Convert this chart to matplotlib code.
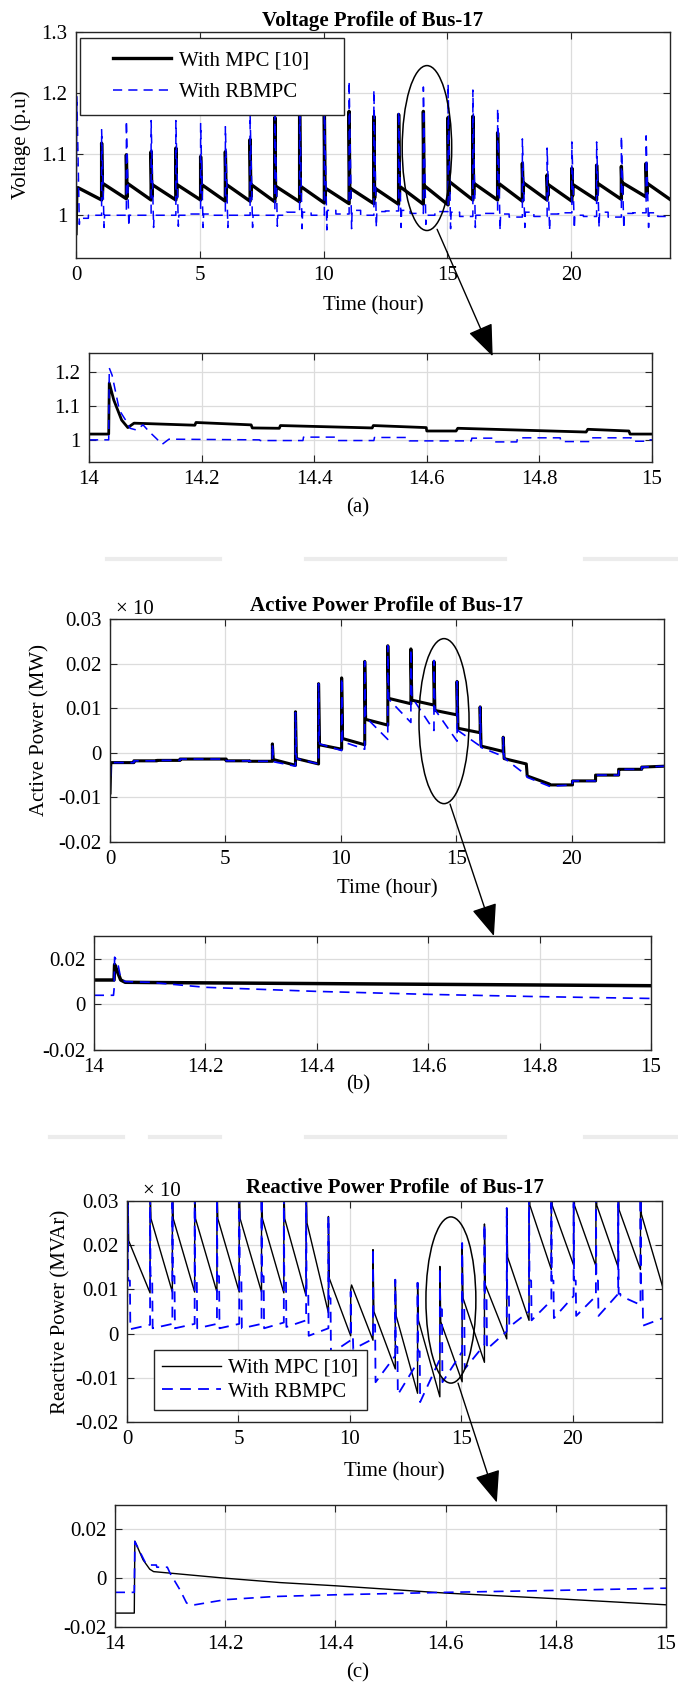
import matplotlib
matplotlib.use("Agg")
import matplotlib.pyplot as plt
from matplotlib.patches import Ellipse, ConnectionPatch
from matplotlib.lines import Line2D
from matplotlib.legend_handler import HandlerLine2D

plt.rcParams["font.family"] = ["Liberation Serif", "DejaVu Serif"]
plt.rcParams["font.size"] = 15

# ---------------- data ----------------
hours = list(range(24))
spike_dt = 0.035

# (a) voltage, per hour: spike peak, dip after it, level after the spike, level before next spike
v_mpc_pre = 0.97
v_mpc_peak = [1.045, 1.118, 1.099, 1.104, 1.110, 1.096, 1.104, 1.124, 1.160, 1.170, 1.168, 1.170,
              1.162, 1.165, 1.170, 1.160, 1.162, 1.135, 1.085, 1.066, 1.077, 1.082, 1.080, 1.085]
v_mpc_trough = [1.045, 1.032, 1.030, 1.030, 1.030, 1.030, 1.030, 1.030, 1.030, 1.030, 1.028, 1.028,
                1.028, 1.030, 1.035, 1.035, 1.033, 1.032, 1.035, 1.032, 1.032, 1.035, 1.035, 1.035]
v_mpc_start = [1.045, 1.052, 1.052, 1.050, 1.050, 1.050, 1.050, 1.050, 1.047, 1.047, 1.044, 1.044,
               1.044, 1.047, 1.048, 1.055, 1.052, 1.052, 1.053, 1.050, 1.050, 1.052, 1.053, 1.052]
v_mpc_end = [1.025, 1.027, 1.025, 1.025, 1.025, 1.023, 1.023, 1.022, 1.022, 1.020, 1.019, 1.019,
             1.018, 1.018, 1.017, 1.025, 1.025, 1.023, 1.025, 1.023, 1.025, 1.026, 1.030, 1.025]

v_rb_pre = 0.945
v_rb_peak = [1.195, 1.140, 1.155, 1.155, 1.155, 1.150, 1.145, 1.165, 1.165, 1.185, 1.190, 1.220,
             1.205, 1.170, 1.210, 1.215, 1.205, 1.175, 1.125, 1.110, 1.120, 1.120, 1.130, 1.130]
v_rb_dip = [0.985, 0.980, 0.982, 0.980, 0.982, 0.980, 0.980, 0.980, 0.982, 0.978, 0.976, 0.978,
            0.980, 0.980, 0.985, 0.978, 0.980, 0.975, 0.980, 0.975, 0.978, 0.980, 0.978, 0.980]
v_rb_lvl_a = [0.995, 1.000, 1.000, 1.000, 1.000, 1.002, 1.000, 1.000, 1.000, 1.005, 1.008, 1.008,
              1.006, 1.008, 1.000, 1.005, 1.000, 1.002, 1.005, 1.002, 1.000, 1.005, 1.003, 1.004]
v_rb_lvl_b = [1.000, 1.000, 1.000, 1.000, 1.002, 1.000, 1.000, 1.000, 1.005, 1.000, 1.002, 1.000,
              1.007, 1.003, 1.006, 0.998, 1.003, 0.997, 0.998, 1.004, 0.998, 0.997, 1.004, 0.998]

# voltage zoom 14-15 h
ta_mpc = [14.0, 14.035, 14.036, 14.044, 14.058, 14.069, 14.08, 14.188, 14.19, 14.288, 14.29, 14.338,
          14.34, 14.503, 14.505, 14.599, 14.6, 14.652, 14.655, 14.883, 14.886, 14.959, 14.961, 15.0]
va_mpc = [1.017, 1.017, 1.167, 1.117, 1.058, 1.036, 1.049, 1.043, 1.051, 1.044, 1.035, 1.034,
          1.042, 1.035, 1.042, 1.036, 1.026, 1.026, 1.034, 1.023, 1.031, 1.026, 1.017, 1.017]
ta_rb = [14.0, 14.035, 14.036, 14.041, 14.054, 14.065, 14.073, 14.084, 14.096, 14.107, 14.119, 14.13,
         14.142, 14.303, 14.304, 14.38, 14.381, 14.437, 14.438, 14.506, 14.507, 14.568, 14.569, 14.679,
         14.68, 14.718, 14.719, 14.76, 14.761, 14.837, 14.838, 14.89, 14.891, 14.963, 14.964, 14.99,
         14.991, 15.0]
va_rb = [1.0, 1.0, 1.211, 1.19, 1.087, 1.058, 1.034, 1.029, 1.044, 1.024, 1.005, 0.987,
         1.002, 1.0, 0.998, 0.998, 1.008, 1.008, 0.998, 0.998, 1.007, 1.007, 0.997, 0.997,
         1.005, 1.005, 0.994, 0.994, 1.006, 1.006, 0.995, 0.995, 1.006, 1.006, 0.996, 0.996,
         1.0, 1.0]

# (b) active power, per hour
p_mpc_pre = -0.009
p_mpc_peak = [-0.0022, -0.0018, -0.0017, -0.0014, -0.0014, -0.0018, -0.0019, 0.0020, 0.0092, 0.0155,
              0.0168, 0.0205, 0.0240, 0.0233, 0.0205, 0.0160, 0.0103, 0.0035, -0.0025, -0.0072,
              -0.0063, -0.0050, -0.0037, -0.0032]
p_mpc_start = [-0.0022, -0.0018, -0.0017, -0.0014, -0.0014, -0.0018, -0.0019, -0.0015, -0.0013, 0.0018,
               0.0032, 0.0075, 0.0122, 0.0118, 0.0095, 0.0055, 0.0015, -0.0013, -0.0052, -0.0072,
               -0.0063, -0.0050, -0.0037, -0.0032]
p_mpc_end = [-0.0022, -0.0018, -0.0017, -0.0014, -0.0014, -0.0018, -0.0019, -0.0028, -0.0025, 0.0008,
             0.0018, 0.0062, 0.0110, 0.0107, 0.0085, 0.0045, 0.0003, -0.0025, -0.0070, -0.0072,
             -0.0063, -0.0050, -0.0037, -0.0030]

p_rb_pre = -0.009
p_rb_peak = [-0.0022, -0.0018, -0.0017, -0.0014, -0.0014, -0.0018, -0.0019, 0.0020, 0.0090, 0.0155,
             0.0168, 0.0205, 0.0240, 0.0233, 0.0207, 0.0160, 0.0103, 0.0035, -0.0050, -0.0075,
             -0.0063, -0.0050, -0.0037, -0.0032]
p_rb_start = [-0.0022, -0.0018, -0.0017, -0.0014, -0.0014, -0.0018, -0.0019, -0.0020, -0.0013, 0.0020,
              0.0025, 0.0080, 0.0120, 0.0125, 0.0097, 0.0050, 0.0012, -0.0012, -0.0055, -0.0075,
              -0.0063, -0.0050, -0.0037, -0.0032]
p_rb_end = [-0.0022, -0.0018, -0.0017, -0.0014, -0.0014, -0.0018, -0.0019, -0.0030, -0.0025, 0.0005,
            0.0008, 0.0030, 0.0068, 0.0050, 0.0026, 0.0015, -0.0008, -0.0050, -0.0075, -0.0072,
            -0.0063, -0.0050, -0.0037, -0.0030]

# active power zoom 14-15 h
tb_mpc = [14.0, 14.036, 14.037, 14.042, 14.048, 14.056, 14.1, 15.0]
pb_mpc = [0.0107, 0.0107, 0.0175, 0.0144, 0.0107, 0.0097, 0.0096, 0.0082]
tb_rb = [14.0, 14.035, 14.036, 14.037, 14.042, 14.048, 14.056, 14.1, 14.2, 14.4, 14.6, 14.8, 15.0]
pb_rb = [0.004, 0.004, 0.0066, 0.0207, 0.0188, 0.0115, 0.0100, 0.0097, 0.0075, 0.0057, 0.0044,
         0.0034, 0.0026]

# (c) reactive power, per hour
q_mpc_pre = -0.004
q_mpc_peak = [0.035, 0.035, 0.035, 0.035, 0.035, 0.035, 0.035, 0.035, 0.035, 0.0265, 0.0100, 0.0190,
              0.0122, 0.0115, 0.0152, 0.0200, 0.0248, 0.0284, 0.035, 0.035, 0.035, 0.035, 0.035, 0.035]
q_mpc_start = [0.021, 0.026, 0.026, 0.026, 0.026, 0.026, 0.026, 0.026, 0.025, 0.0125, 0.0110, 0.0050,
               0.0040, 0.0030, 0.0027, 0.0080, 0.0110, 0.0173, 0.0290, 0.0290, 0.0290, 0.0290, 0.0280,
               0.0270]
q_mpc_end = [0.0092, 0.0094, 0.0094, 0.0094, 0.0094, 0.0094, 0.0092, 0.0085, 0.0047, -0.0005, -0.0015,
             -0.0080, -0.0135, -0.0143, -0.0109, -0.0065, -0.0012, 0.0030, 0.0145, 0.0155, 0.0153,
             0.0150, 0.0145, 0.0105]

q_rb_pre = -0.004
q_rb_peak = [0.035, 0.035, 0.035, 0.035, 0.035, 0.035, 0.035, 0.035, 0.035, 0.0265, 0.0095, 0.0193,
             0.0122, 0.0115, 0.0150, 0.0205, 0.0248, 0.0284, 0.035, 0.035, 0.035, 0.035, 0.035, 0.035]
q_rb_mid = [0.012, 0.013, 0.013, 0.013, 0.013, 0.013, 0.013, 0.013, 0.010, 0.008, 0.000, 0.002,
            -0.003, -0.004, 0.0055, 0.006, 0.008, 0.010, 0.012, 0.012, 0.012, 0.012, 0.009, 0.010]
q_rb_low_s = [0.0010, 0.0012, 0.0012, 0.0012, 0.0012, 0.0012, 0.0012, 0.0015, -0.0005, -0.0045,
              -0.0035, -0.0110, -0.0138, -0.0155, -0.0110, -0.0080, -0.0035, 0.0015, 0.0030, 0.0035,
              0.0040, 0.0040, 0.0085, 0.0018]
q_rb_low_e = [0.0020, 0.0022, 0.0022, 0.0022, 0.0022, 0.0022, 0.0025, 0.0030, 0.0012, -0.0015,
              -0.0012, -0.0050, -0.0065, -0.0058, -0.0041, -0.0025, 0.0005, 0.0050, 0.0075, 0.0085,
              0.0085, 0.0090, 0.0065, 0.0035]

# reactive power zoom 14-15 h
tc_mpc = [14.0, 14.035, 14.036, 14.051, 14.063, 14.07, 14.2, 14.3, 14.4, 14.6, 14.8, 15.0]
qc_mpc = [-0.0143, -0.0143, 0.0152, 0.0075, 0.0037, 0.0027, 0.0, -0.0018, -0.0031, -0.0061,
          -0.0084, -0.0109]
tc_rb = [14.0, 14.035, 14.036, 14.055, 14.06, 14.075, 14.076, 14.095, 14.1, 14.118, 14.13, 14.145,
         14.2, 14.29, 14.4, 14.6, 14.8, 15.0]
qc_rb = [-0.0058, -0.0058, 0.015, 0.0064, 0.0054, 0.0054, 0.0045, 0.0045, 0.002, -0.0048, -0.0102,
         -0.0109, -0.0088, -0.0075, -0.0068, -0.0058, -0.0050, -0.0041]

labels = ["With MPC [10]", "With RBMPC"]
t_ticks = [0, 5, 10, 15, 20]
z_ticks = [14, 14.2, 14.4, 14.6, 14.8, 15]
z_ticklabels = ["14", "14.2", "14.4", "14.6", "14.8", "15"]
v_ticks = [1, 1.1, 1.2, 1.3]
v_ticklabels = ["1", "1.1", "1.2", "1.3"]
va_ticks = [1, 1.1, 1.2]
va_ticklabels = ["1", "1.1", "1.2"]
pq_ticks = [-0.02, -0.01, 0, 0.01, 0.02, 0.03]
pq_ticklabels = ["-0.02", "-0.01", "0", "0.01", "0.02", "0.03"]
pqz_ticks = [-0.02, 0, 0.02]
pqz_ticklabels = ["-0.02", "0", "0.02"]


# ---------------- build step/spike polylines from the hourly readings ----------------
def spike_series(pre, peak, start, end, trough=None):
    t, y = [0.0], [pre]
    for i, h in enumerate(hours):
        if trough is None:
            t += [h + spike_dt, h + spike_dt + 0.04, h + 1 + spike_dt]
            y += [peak[i], start[i], end[i]]
        else:
            t += [h + spike_dt, h + spike_dt + 0.03, h + spike_dt + 0.05, h + 1 + spike_dt]
            y += [peak[i], trough[i], start[i], end[i]]
    return t, y


def rb_voltage_series(pre, peak, dip, la, lb):
    t, y = [0.0], [pre]
    for h, pk, d, a, b in zip(hours, peak, dip, la, lb):
        t += [h + spike_dt, h + spike_dt + 0.1, h + spike_dt + 0.12, h + 0.5, h + 0.5, h + 1 + spike_dt]
        y += [pk, d, a, a, b, b]
    return t, y


def rb_reactive_series(pre, peak, mid, lo_s, lo_e):
    t, y = [0.0], [pre]
    for h, pk, m, a, b in zip(hours, peak, mid, lo_s, lo_e):
        t += [h + spike_dt, h + spike_dt + 0.02, h + 0.13, h + 0.15, h + 1 + spike_dt]
        y += [pk, m, m, a, b]
    return t, y


W, H = 678, 1684
fig = plt.figure(figsize=(W / 100, H / 100), dpi=100)

# faint page separators of the scanned figure
for y0, segs in [(559, [(107, 220), (306, 505), (585, 678)]),
                 (1137, [(50, 123), (150, 220), (306, 505), (585, 678)])]:
    for x0, x1 in segs:
        fig.add_artist(Line2D([x0 / W, x1 / W], [1 - y0 / H, 1 - y0 / H], color="#ececec", lw=3,
                              transform=fig.transFigure))


def make_axes(l, r, t, b):
    ax = fig.add_axes([l / W, 1 - b / H, (r - l) / W, (b - t) / H])
    ax.grid(True, color="#dcdcdc", lw=0.9)
    ax.set_axisbelow(True)
    ax.tick_params(direction="in", top=True, right=True, length=5, width=0.8, color="#262626",
                   labelsize=15, pad=6)
    for s in ax.spines.values():
        s.set_color("#262626")
        s.set_linewidth(1.0)
    return ax


dash = (0, (6, 4))
blue = "#0000ff"

# ---- (a) voltage ----
ax1 = make_axes(76, 670, 32, 258)
t, y = spike_series(v_mpc_pre, v_mpc_peak, v_mpc_start, v_mpc_end, v_mpc_trough)
ax1.plot(t, y, color="k", lw=2.4, label=labels[0])
t, y = rb_voltage_series(v_rb_pre, v_rb_peak, v_rb_dip, v_rb_lvl_a, v_rb_lvl_b)
ax1.plot(t, y, color=blue, lw=1.1, ls=dash, label=labels[1])
ax1.set_xlim(0, 24)
ax1.set_ylim(0.93, 1.3)
ax1.set_xticks(t_ticks)
ax1.set_yticks(v_ticks)
ax1.set_yticklabels(v_ticklabels)
ax1.set_title("Voltage Profile of Bus-17", fontweight="bold", fontsize=15, pad=4)
ax1.set_xlabel("Time (hour)", fontsize=15)
ax1.xaxis.set_label_coords(0.5, -0.17)
ax1.set_ylabel("Voltage (p.u)", fontsize=15)
ax1.yaxis.set_label_coords(-0.075, 0.5)
ax1.legend(loc="upper left", bbox_to_anchor=(0.0067, 0.5, 0.444, 0.473), mode="expand",
           borderaxespad=0, fontsize=15, handlelength=3.77, handletextpad=0.38,
           handler_map={Line2D: HandlerLine2D(xpad=1.0)},
           labelspacing=0.6, fancybox=False, framealpha=1, edgecolor="#262626", borderpad=0.6)

ax1z = make_axes(89, 652, 353, 462)
ax1z.plot(ta_mpc, va_mpc, color="k", lw=2.0)
ax1z.plot(ta_rb, va_rb, color=blue, lw=1.1, ls=dash)
ax1z.set_xlim(14, 15)
ax1z.set_ylim(0.935, 1.255)
ax1z.set_xticks(z_ticks)
ax1z.set_xticklabels(z_ticklabels)
ax1z.set_yticks(va_ticks)
ax1z.set_yticklabels(va_ticklabels)

# ---- (b) active power ----
ax2 = make_axes(110, 664, 619, 842)
t, y = spike_series(p_mpc_pre, p_mpc_peak, p_mpc_start, p_mpc_end)
ax2.plot(t, y, color="k", lw=2.2)
t, y = spike_series(p_rb_pre, p_rb_peak, p_rb_start, p_rb_end)
ax2.plot(t, y, color=blue, lw=1.2, ls=dash)
ax2.set_xlim(0, 24)
ax2.set_ylim(-0.02, 0.03)
ax2.set_xticks(t_ticks)
ax2.set_yticks(pq_ticks)
ax2.set_yticklabels(pq_ticklabels)
ax2.set_title("Active Power Profile of Bus-17", fontweight="bold", fontsize=15, pad=6)
ax2.set_xlabel("Time (hour)", fontsize=15)
ax2.xaxis.set_label_coords(0.5, -0.165)
ax2.set_ylabel("Active Power (MW)", fontsize=15)
ax2.yaxis.set_label_coords(-0.11, 0.5)
ax2.text(0.01, 1.0, "\u00d7 10", transform=ax2.transAxes, fontsize=15, va="bottom", ha="left")

ax2z = make_axes(94, 651, 936, 1050)
ax2z.plot(tb_mpc, pb_mpc, color="k", lw=2.5)
ax2z.plot(tb_rb, pb_rb, color=blue, lw=1.2, ls=dash)
ax2z.set_xlim(14, 15)
ax2z.set_ylim(-0.02, 0.03)
ax2z.set_xticks(z_ticks)
ax2z.set_xticklabels(z_ticklabels)
ax2z.set_yticks(pqz_ticks)
ax2z.set_yticklabels(pqz_ticklabels)

# ---- (c) reactive power ----
ax3 = make_axes(127, 662, 1201, 1422)
t, y = spike_series(q_mpc_pre, q_mpc_peak, q_mpc_start, q_mpc_end)
ax3.plot(t, y, color="k", lw=1.0, label=labels[0])
t, y = rb_reactive_series(q_rb_pre, q_rb_peak, q_rb_mid, q_rb_low_s, q_rb_low_e)
ax3.plot(t, y, color=blue, lw=1.3, ls=dash, label=labels[1])
ax3.set_xlim(0, 24)
ax3.set_ylim(-0.02, 0.03)
ax3.set_xticks(t_ticks)
ax3.set_yticks(pq_ticks)
ax3.set_yticklabels(pq_ticklabels)
ax3.set_title("Reactive Power Profile  of Bus-17", fontweight="bold", fontsize=15, pad=6)
ax3.set_xlabel("Time (hour)", fontsize=15)
ax3.xaxis.set_label_coords(0.5, -0.18)
ax3.set_ylabel("Reactive Power (MVAr)", fontsize=15)
ax3.yaxis.set_label_coords(-0.105, 0.5)
ax3.text(0.03, 1.0, "\u00d7 10", transform=ax3.transAxes, fontsize=15, va="bottom", ha="left")
ax3.legend(loc="lower left", bbox_to_anchor=(0.05, 0.054), borderaxespad=0, fontsize=15,
           handlelength=2.84, handletextpad=0.34, labelspacing=0.2, fancybox=False, framealpha=1,
           edgecolor="#262626", borderpad=0.4)

ax3z = make_axes(115, 666, 1505, 1627)
ax3z.plot(tc_mpc, qc_mpc, color="k", lw=1.0)
ax3z.plot(tc_rb, qc_rb, color=blue, lw=1.2, ls=dash)
ax3z.set_xlim(14, 15)
ax3z.set_ylim(-0.02, 0.03)
ax3z.set_xticks(z_ticks)
ax3z.set_xticklabels(z_ticklabels)
ax3z.set_yticks(pqz_ticks)
ax3z.set_yticklabels(pqz_ticklabels)

# ---- zoom ellipses and arrows ----
for ax, axz, centre, size, start, tip in [
        (ax1, ax1z, (14.18, 1.11), (2.0, 0.27), (14.59, 0.977), (0.717, 0.97)),
        (ax2, ax2z, (14.47, 0.0071), (2.17, 0.037), (14.73, -0.0115), (0.718, 1.0)),
        (ax3, ax3z, (14.53, 0.0076), (2.24, 0.0376), (14.85, -0.0112), (0.693, 1.02))]:
    ax.add_patch(Ellipse(centre, size[0], size[1], fill=False, ec="k", lw=1.1, clip_on=False, zorder=5))
    con = ConnectionPatch(xyA=start, coordsA=ax.transData, xyB=tip, coordsB=axz.transAxes,
                          arrowstyle="-|>,head_length=1.0,head_width=0.4", mutation_scale=20,
                          color="k", lw=1.0)
    fig.add_artist(con)

fig.text(358 / W, 1 - 508 / H, "(a)", ha="center", va="center", fontsize=15)
fig.text(358 / W, 1 - 1085 / H, "(b)", ha="center", va="center", fontsize=15)
fig.text(358 / W, 1 - 1673 / H, "(c)", ha="center", va="center", fontsize=15)

fig.savefig("out.png", dpi=100)
